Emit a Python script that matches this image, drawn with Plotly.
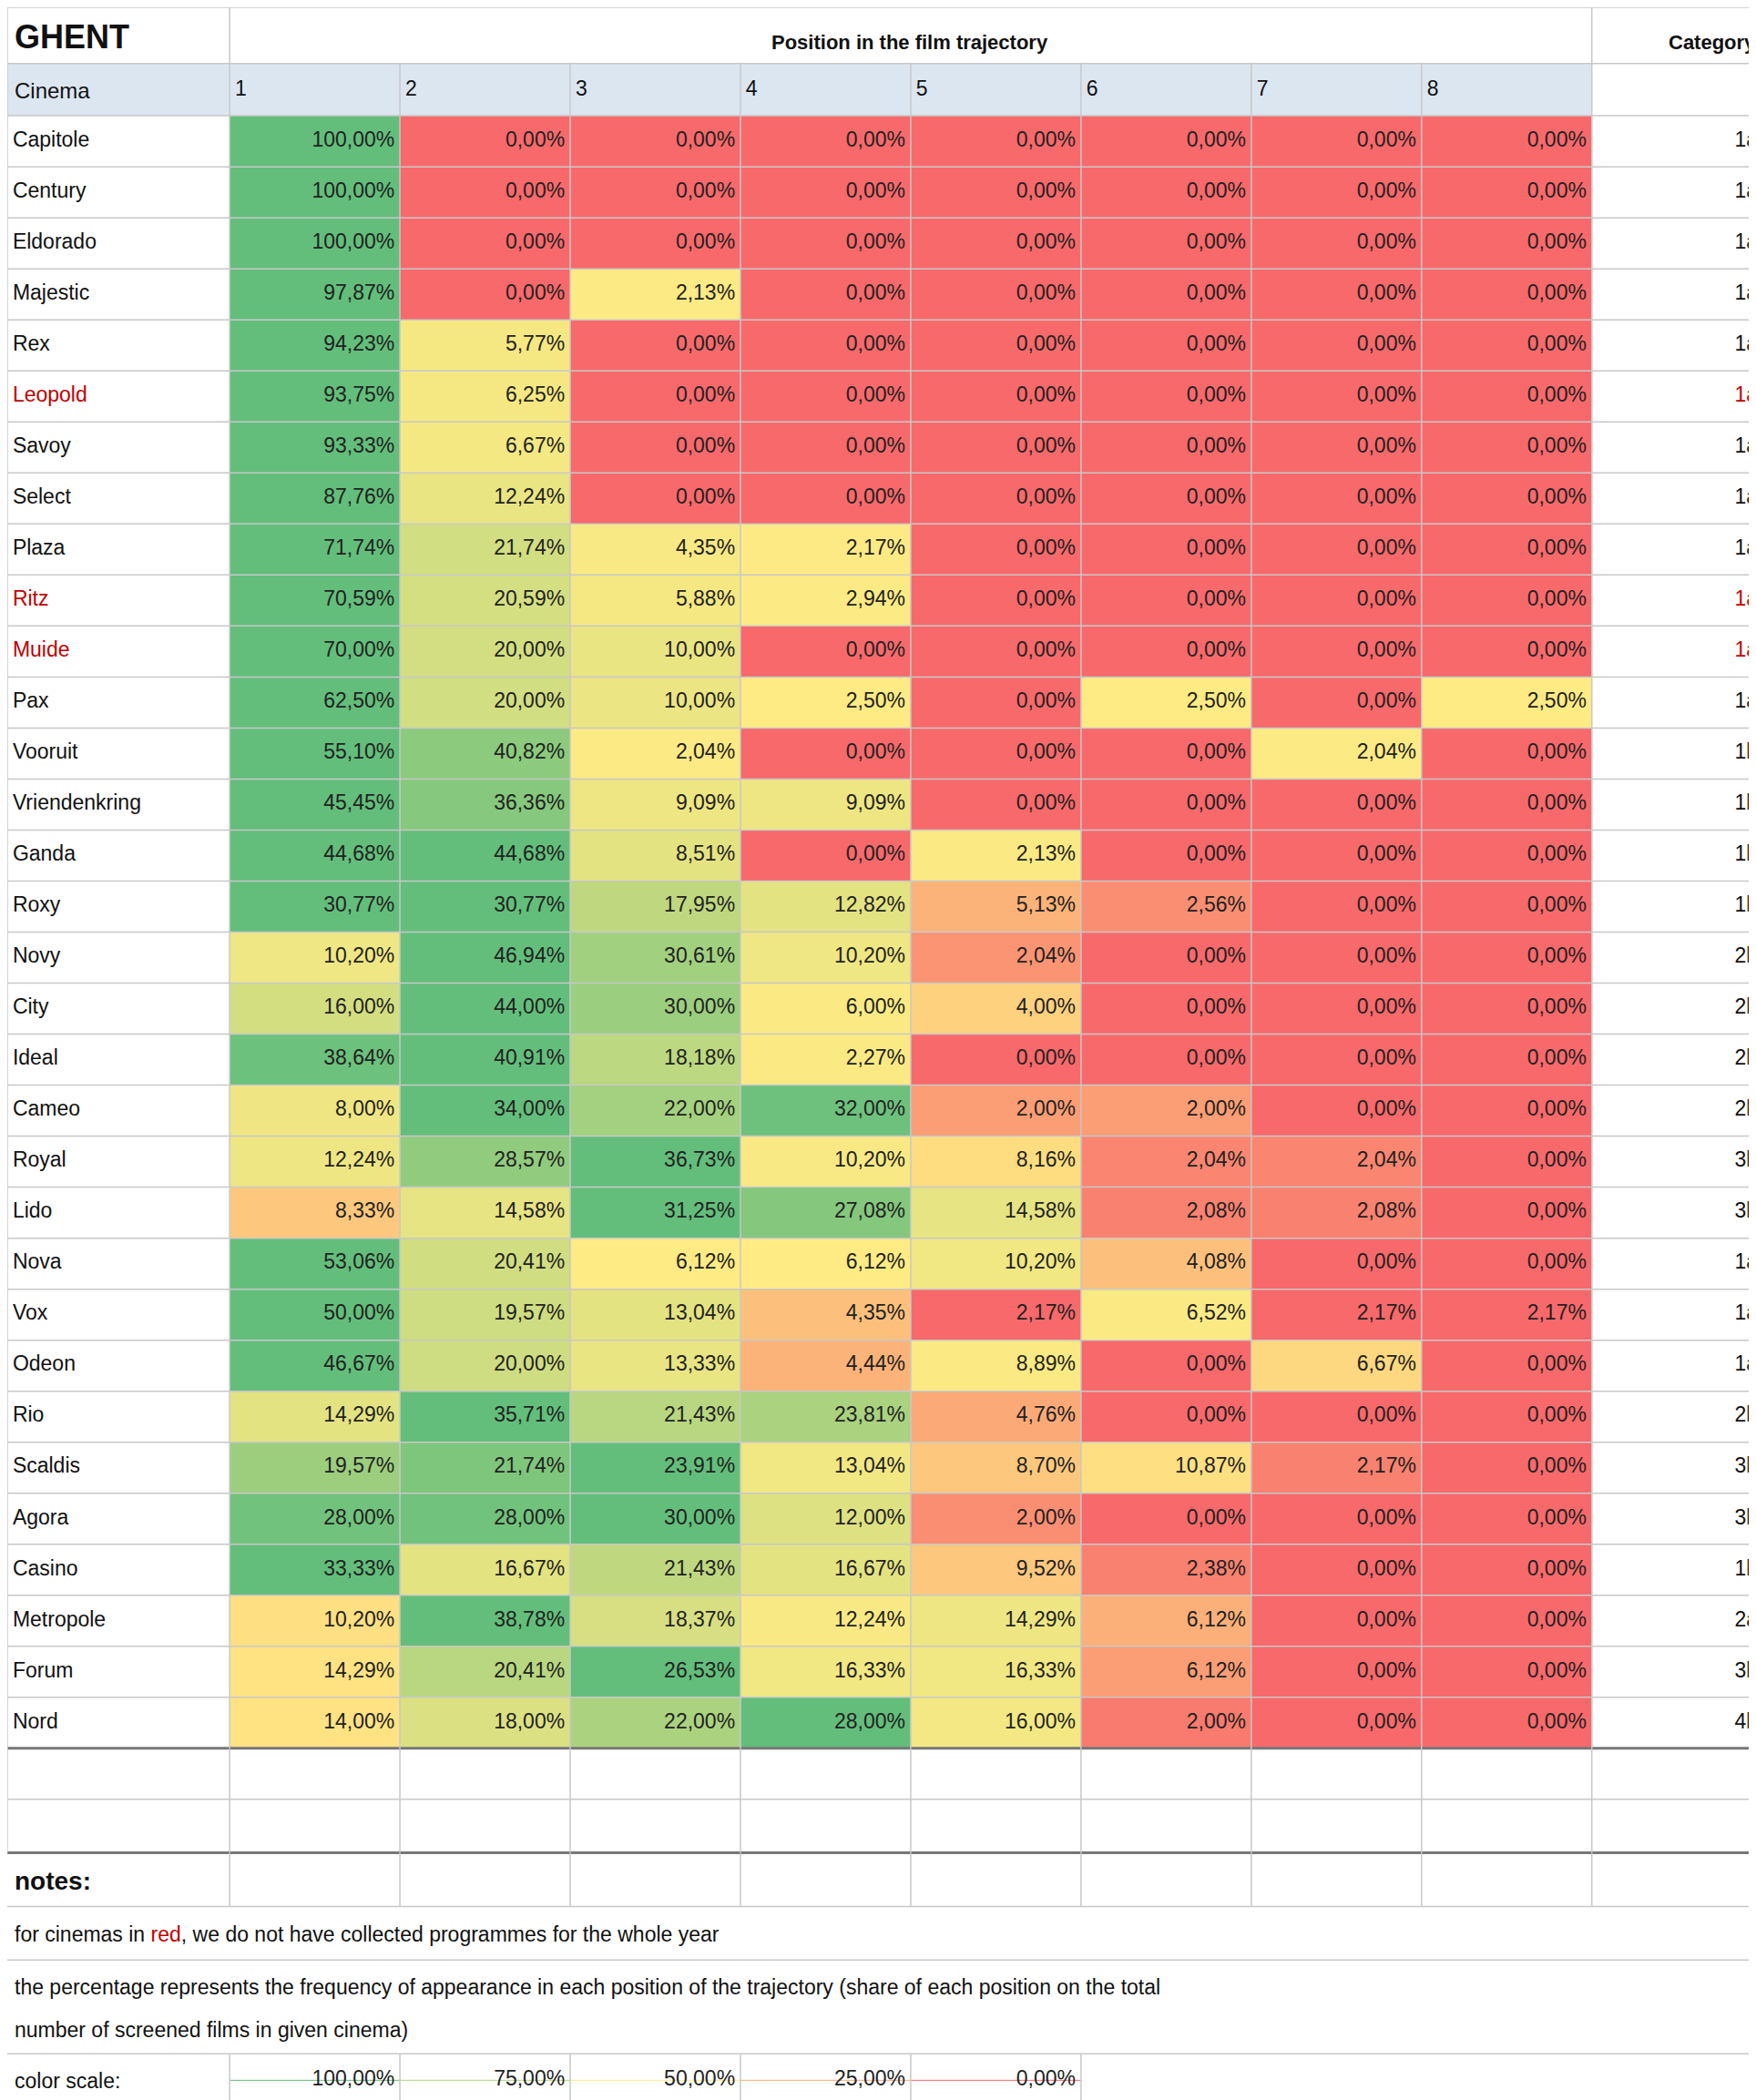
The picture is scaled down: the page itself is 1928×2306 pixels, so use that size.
import plotly.graph_objects as go
import numpy as np

cinemas = ["Capitole","Century","Eldorado","Majestic","Rex","Leopold","Savoy","Select","Plaza","Ritz","Muide","Pax",
           "Vooruit","Vriendenkring","Ganda","Roxy","Novy","City","Ideal","Cameo","Royal","Lido","Nova","Vox","Odeon",
           "Rio","Scaldis","Agora","Casino","Metropole","Forum","Nord"]
red_names = {"Leopold","Ritz","Muide"}
categories = ["1a","1a","1a","1a","1a","1a","1a","1a","1a","1a","1a","1a","1b","1b","1b","1b","2b","2b","2b","2b",
              "3b","3b","1a","1a","1a","2b","3b","3b","1b","2a","3b","4b"]
values = [
 [100,0,0,0,0,0,0,0],[100,0,0,0,0,0,0,0],[100,0,0,0,0,0,0,0],[97.87,0,2.13,0,0,0,0,0],
 [94.23,5.77,0,0,0,0,0,0],[93.75,6.25,0,0,0,0,0,0],[93.33,6.67,0,0,0,0,0,0],[87.76,12.24,0,0,0,0,0,0],
 [71.74,21.74,4.35,2.17,0,0,0,0],[70.59,20.59,5.88,2.94,0,0,0,0],[70.00,20.00,10.00,0,0,0,0,0],
 [62.50,20.00,10.00,2.50,0,2.50,0,2.50],[55.10,40.82,2.04,0,0,0,2.04,0],[45.45,36.36,9.09,9.09,0,0,0,0],
 [44.68,44.68,8.51,0,2.13,0,0,0],[30.77,30.77,17.95,12.82,5.13,2.56,0,0],[10.20,46.94,30.61,10.20,2.04,0,0,0],
 [16.00,44.00,30.00,6.00,4.00,0,0,0],[38.64,40.91,18.18,2.27,0,0,0,0],[8.00,34.00,22.00,32.00,2.00,2.00,0,0],
 [12.24,28.57,36.73,10.20,8.16,2.04,2.04,0],[8.33,14.58,31.25,27.08,14.58,2.08,2.08,0],
 [53.06,20.41,6.12,6.12,10.20,4.08,0,0],[50.00,19.57,13.04,4.35,2.17,6.52,2.17,2.17],
 [46.67,20.00,13.33,4.44,8.89,0,6.67,0],[14.29,35.71,21.43,23.81,4.76,0,0,0],
 [19.57,21.74,23.91,13.04,8.70,10.87,2.17,0],[28.00,28.00,30.00,12.00,2.00,0,0,0],
 [33.33,16.67,21.43,16.67,9.52,2.38,0,0],[10.20,38.78,18.37,12.24,14.29,6.12,0,0],
 [14.29,20.41,26.53,16.33,16.33,6.12,0,0],[14.00,18.00,22.00,28.00,16.00,2.00,0,0]]
positions = ["1","2","3","4","5","6","7","8"]
scale_labels = ["100,00%","75,00%","50,00%","25,00%","0,00%"]
scale_values = [1.0,0.75,0.5,0.25,0.0]

def fmt(v):
    return f"{v:.2f}".replace(".", ",") + "%"

# normalized per-row score: min->0, median->0.5, max->1
def norm_row(r):
    r = np.array(r, float); lo, md, hi = r.min(), np.median(r), r.max()
    out = []
    for v in r:
        if v <= md:
            out.append(0.0 if md == lo else 0.5*(v-lo)/(md-lo))
        else:
            out.append(0.5+0.5*(v-md)/(hi-md))
    return out
z = [norm_row(r) for r in values]
cs = [[0,"rgb(248,105,107)"],[0.5,"rgb(255,235,132)"],[1,"rgb(99,190,123)"]]

W, H = 1311, 1568
x0, cw = 166, (1183-166)/8
top, rh = 81, (1300-81)/32
nrow = len(cinemas)
xc = [x0+cw*(j+0.5) for j in range(8)]
yc = [top+rh*(i+0.5) for i in range(nrow)]

FONT = "Liberation Sans Narrow, Liberation Sans, Arial"
fig = go.Figure()
fig.add_trace(go.Heatmap(x=xc, y=yc, z=z, colorscale=cs, zmin=0, zmax=1, showscale=False, hoverinfo="skip"))
# color scale row
sy = 1548
fig.add_trace(go.Heatmap(x=[x0+cw*(j+0.5) for j in range(5)], y=[sy], z=[scale_values], colorscale=cs,
                         zmin=0, zmax=1, showscale=False, hoverinfo="skip", dy=40))

tx, ty, tt = [], [], []
for i in range(nrow):
    for j in range(8):
        tx.append(x0+cw*(j+1)-4); ty.append(yc[i]); tt.append(fmt(values[i][j]))
for j, s in enumerate(scale_labels):
    tx.append(x0+cw*(j+1)-4); ty.append(sy); tt.append(s)
fig.add_trace(go.Scatter(x=tx, y=ty, text=tt, mode="text", textposition="middle left",
                         textfont=dict(size=23, color="#222", family=FONT), hoverinfo="skip"))
fig.add_trace(go.Scatter(x=[4]*nrow, y=yc, text=cinemas, mode="text", textposition="middle right",
                         textfont=dict(size=23, family=FONT, color=["#c00000" if c in red_names else "#111" for c in cinemas]),
                         hoverinfo="skip"))
fig.add_trace(go.Scatter(x=[1307]*nrow, y=yc, text=categories, mode="text", textposition="middle left",
                         textfont=dict(size=23, family=FONT, color=["#c00000" if c in red_names else "#111" for c in cinemas]),
                         hoverinfo="skip"))
fig.add_trace(go.Scatter(x=[x0+cw*j+4 for j in range(8)], y=[62]*8, text=positions, mode="text",
                         textposition="middle right", textfont=dict(size=23, family=FONT, color="#111"), hoverinfo="skip"))

shapes = []
shapes.append(dict(type="rect", x0=0, x1=1183, y0=42, y1=81, fillcolor="rgb(220,230,241)", line_width=0, layer="below"))
grid = "rgb(200,200,200)"
# horizontal lines
hl = [0,42,81] + [top+rh*i for i in range(1,nrow)] + [1300,1338,1378,1418,1458,1528,1568]
for y in hl:
    shapes.append(dict(type="line", x0=0, x1=W, y0=y, y1=y, line=dict(color=grid, width=1.5)))
for y in [1300,1378]:
    shapes.append(dict(type="line", x0=0, x1=W, y0=y, y1=y, line=dict(color="#777", width=3)))
# vertical lines
for x in [0,166,1183,W]:
    shapes.append(dict(type="line", x0=x, x1=x, y0=0, y1=1378, line=dict(color=grid, width=1.5)))
for j in range(1,8):
    shapes.append(dict(type="line", x0=x0+cw*j, x1=x0+cw*j, y0=42, y1=1378, line=dict(color=grid, width=1.5)))
for j in range(0,6):
    shapes.append(dict(type="line", x0=x0+cw*j, x1=x0+cw*j, y0=1528, y1=1568, line=dict(color=grid, width=1.5)))
for x in [166]+[x0+cw*j for j in range(1,8)]+[1183]:
    shapes.append(dict(type="line", x0=x, x1=x, y0=1378, y1=1418, line=dict(color=grid, width=1.5)))

ann = [
 dict(x=4, y=22, text="<b>GHENT</b>", xanchor="left", font=dict(size=36)),
 dict(x=674, y=26, text="<b>Position in the film trajectory</b>", xanchor="center", font=dict(size=22)),
 dict(x=1307, y=26, text="<b>Category</b>", xanchor="right", font=dict(size=22)),
 dict(x=4, y=62, text="Cinema", xanchor="left", font=dict(size=24)),
 dict(x=4, y=1399, text="<b>notes:</b>", xanchor="left", font=dict(size=28)),
 dict(x=4, y=1439, text="for cinemas in <span style='color:#c00000'>red</span>, we do not have collected programmes for the whole year", xanchor="left", font=dict(size=23)),
 dict(x=4, y=1478, text="the percentage represents the frequency of appearance in each position of the trajectory (share of each position on the total", xanchor="left", font=dict(size=23)),
 dict(x=4, y=1510, text="number of screened films in given cinema)", xanchor="left", font=dict(size=23)),
 dict(x=4, y=1548, text="color scale:", xanchor="left", font=dict(size=23)),
]
for a in ann:
    a.update(xref="x", yref="y", showarrow=False, yanchor="middle")
    a["font"].update(family=FONT, color="#111")

fig.update_layout(width=1928, height=2306, margin=dict(l=0, r=0, t=0, b=0), plot_bgcolor="white",
                  paper_bgcolor="white", showlegend=False, shapes=shapes, annotations=ann,
                  xaxis=dict(range=[0, W], visible=False, fixedrange=True),
                  yaxis=dict(range=[H, 0], visible=False, fixedrange=True))
fig.write_html("out.html")
